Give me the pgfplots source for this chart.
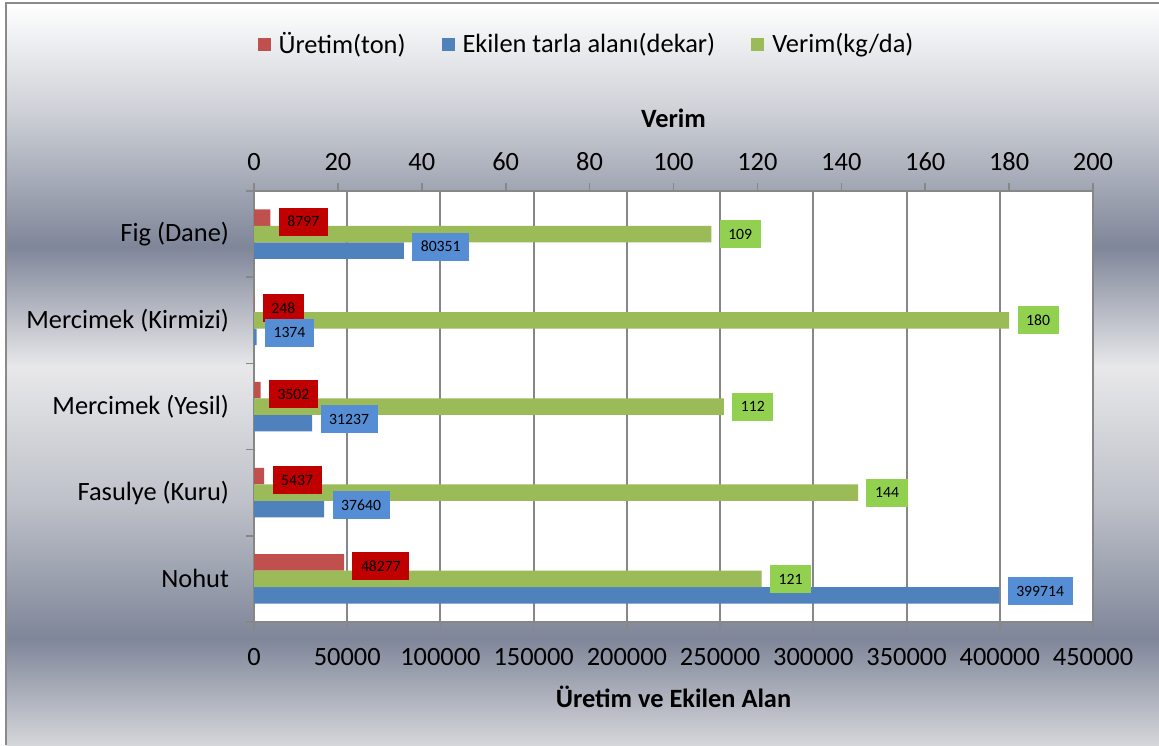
\documentclass[border=0pt]{standalone}
\usepackage{fontspec}
\setmainfont{Carlito}
\usepackage{pgfplots}
\usepackage{pgfplotstable}
\pgfplotsset{compat=1.18}

\definecolor{uretim}{HTML}{C0504D}
\definecolor{ekilen}{HTML}{4F81BD}
\definecolor{verim}{HTML}{9BBB59}
\definecolor{uretimlbl}{HTML}{C00000}
\definecolor{ekilenlbl}{HTML}{558ED5}
\definecolor{verimlbl}{HTML}{92D050}
\definecolor{axgray}{HTML}{878787}
\definecolor{bordergray}{HTML}{8A8A8A}
% chart area gradient (Excel silver)
\definecolor{bgtop}{HTML}{FFFFFF}
\definecolor{bgupper}{HTML}{CDD0D6}
\definecolor{bgdark}{HTML}{7F8699}
\definecolor{bglight}{HTML}{E8E8EA}
\definecolor{bgmid}{HTML}{BEC1C9}
\definecolor{bgbottom}{HTML}{D5D6DA}
\pgfdeclareverticalshading{excelbg}{100bp}{%
  color(0bp)=(bgbottom); color(25bp)=(bgbottom);
  color(32.18bp)=(bgdark); color(41.44bp)=(bgmid);
  color(50.5bp)=(bglight); color(58.56bp)=(bgdark);
  color(67.62bp)=(bgupper); color(75bp)=(bgtop); color(100bp)=(bgtop)}

\pgfplotstableread{
pos uretim ekilen verim
0 48277 399714 121
1 5437 37640 144
2 3502 31237 112
3 248 1374 180
4 8797 80351 109
}\datatable

\newcommand{\bigfont}{\fontsize{13.2}{15.8}\selectfont}
\newcommand{\lblfont}{\fontsize{7.85}{9.4}\selectfont}

\pgfplotsset{
  frame/.style={
    at={(127pt,61.5pt)}, anchor=south west,
    scale only axis, width=419.5pt, height=215.5pt,
    ymin=-0.5, ymax=4.5,
    clip=false,
    tick align=outside, major tick length=4pt,
    tick style={axgray, line width=0.8pt},
    ticklabel style={font=\bigfont},
    xticklabel style={/pgf/number format/assume math mode=true,
      /pgf/number format/fixed, /pgf/number format/precision=0,
      /pgf/number format/1000 sep={}},
    scaled x ticks=false,
  },
  lbl/.style={
    nodes near coords, point meta=explicit symbolic,
    every node near coord/.append style={anchor=west, xshift=4pt,
      font=\lblfont, text=black, fill=#1,
      inner xsep=4.3pt, inner ysep=0pt, minimum height=14pt},
  },
  barstyle/.style={xbar, bar width=8.25pt, draw=none},
}

\begin{document}
\begin{tikzpicture}
\useasboundingbox (0,0) rectangle (579.5pt,372.5pt);
\fill[white] (0,0) rectangle (579.5pt,372.5pt);
\shade[shading=excelbg] (3pt,0) rectangle (579.5pt,371pt);
\draw[bordergray, line width=1pt] (3pt,0) -- (3pt,371pt) -- (579.5pt,371pt);

% primary axis: production and area
\begin{axis}[frame,
  xmin=0, xmax=450000, xtick={0,50000,...,450000},
  xtick pos=left, ytick pos=left,
  xmajorgrids, grid style={axgray, line width=1pt},
  axis line style={axgray, line width=0.8pt},
  axis background/.style={fill=white},
  ytick={-0.5,0.5,1.5,2.5,3.5,4.5}, yticklabels={,,,,,},
  extra y ticks={0,1,2,3,4},
  extra y tick labels={Nohut,Fasulye (Kuru),Mercimek (Yesil),Mercimek (Kirmizi),Fig (Dane)},
  extra y tick style={tick style={draw=none}, yticklabel style={anchor=east, xshift=-5pt}},
  xticklabel style={anchor=center, yshift=-13.5pt},
  xlabel={Üretim ve Ekilen Alan},
  xlabel style={font=\bigfont\bfseries, at={(axis description cs:0.5,-0.174)}, anchor=center},
]
\addplot[barstyle, fill=uretim, bar shift=8.25pt] table[x=uretim, y=pos] {\datatable};
\addplot[barstyle, fill=ekilen, bar shift=-8.25pt] table[x=ekilen, y=pos] {\datatable};
\end{axis}

% secondary axis: yield
\begin{axis}[frame,
  xmin=0, xmax=200, xtick={0,20,...,200},
  axis x line*=top, axis y line=none, ytick=\empty,
  axis line style={axgray, line width=0.8pt},
  xticklabel style={anchor=center, yshift=10.5pt},
  xlabel={Verim},
  xlabel style={font=\bigfont\bfseries, at={(axis description cs:0.5,1.1694)}, anchor=center},
]
\addplot[barstyle, fill=verim, bar shift=0pt, lbl=verimlbl] table[x=verim, y=pos, meta=verim] {\datatable};
\end{axis}

% labels of the primary series on top of everything, and the legend
\begin{axis}[frame, hide axis,
  xmin=0, xmax=450000,
  legend columns=3,
  legend style={at={(axis description cs:0.3999,1.341)}, anchor=center,
    draw=none, fill=none, font=\bigfont,
    nodes={inner xsep=4pt, inner ysep=1pt},
    /tikz/every even column/.append style={column sep=14pt}},
  legend image code/.code={\fill[#1] (0pt,-3.25pt) rectangle (6.5pt,3.25pt);},
]
\addplot[barstyle, fill=none, bar shift=8.25pt, lbl=uretimlbl, forget plot,
  every node near coord/.append style={yshift=6.25pt}] table[x=uretim, y=pos, meta=uretim] {\datatable};
\addplot[barstyle, fill=none, bar shift=-8.25pt, lbl=ekilenlbl, forget plot,
  every node near coord/.append style={yshift=-6.25pt}] table[x=ekilen, y=pos, meta=ekilen] {\datatable};
\addlegendimage{fill=uretim, draw=none}
\addlegendentry{Üretim(ton)}
\addlegendimage{fill=ekilen, draw=none}
\addlegendentry{Ekilen tarla alanı(dekar)}
\addlegendimage{fill=verim, draw=none}
\addlegendentry{Verim(kg/da)}
\end{axis}
\end{tikzpicture}
\end{document}
